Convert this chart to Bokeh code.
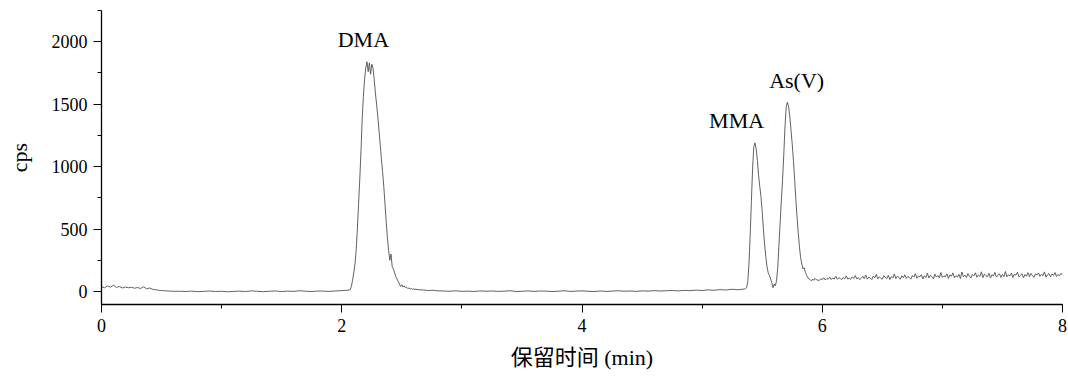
from bokeh.plotting import figure
from bokeh.models import SingleIntervalTicker, ColumnDataSource, Range1d
from bokeh.core.properties import value
from bokeh.embed import file_html
from bokeh.resources import INLINE
import numpy as np

# Chromatogram trace, stored as uniformly sampled segments: (start min, step min, cps values)
seg_start_baseline = (0.000, 0.025)
cps_start_baseline = [38, 30, 44, 35, 50, 33, 40, 28, 36, 30, 34, 26, 32, 24, 38, 22, 28, 18,
                      14, 10, 8, 6, 4, 3, 2]

seg_pre_dma = (0.65, 0.05)
cps_pre_dma = [2, 0, 3, -1, 1, 4, 0, 2, -2, 1, 3, 0, 5, 1, -1, 2, 4, 0, 3, 1, 6, 2, 0, 4, 3,
               1, 5, 7, 10]

seg_dma = (2.07, 0.01)
cps_dma = [15, 40, 90, 150, 220, 330, 500, 700, 900, 1120, 1380, 1560, 1700, 1790, 1840, 1760,
           1830, 1740, 1820, 1790, 1700, 1590, 1500, 1400, 1290, 1180, 1060, 960, 840, 700,
           560, 430, 330, 250, 300, 200, 180, 150, 120, 100, 80, 60, 40, 55, 35, 45, 30, 34,
           25, 28, 20, 24, 18, 20]

seg_dma_tail = (2.64, 0.04)
cps_dma_tail = [14, 12, 8, 10, 5]

seg_mid = (2.85, 0.05)
cps_mid = [4, 2, 6, 1, 3, 0, 5, 2, 4, 1, 3, 6, 0, 2, 5, 1, 4, 3, 0, 2, 6, 1, 3, 5, 2, 0, 4,
           1, 3, 6, 2, 4, 1, 5, 3, 7, 4, 6, 8, 5, 9, 7, 11, 8, 13, 10, 15, 12, 18, 14, 20]

seg_mma_asv = (5.36, 0.01)
cps_mma_asv = [22, 30, 80, 220, 450, 720, 980, 1160, 1190, 1140, 1050, 930, 840, 760, 640,
               500, 380, 280, 200, 150, 130, 100, 70, 30, 60, 45, 90, 200, 380, 560, 740, 900,
               1100, 1320, 1480, 1515, 1480, 1400, 1290, 1180, 1050, 900, 740, 600, 470, 360,
               270, 220, 180, 190, 150, 130, 110, 100, 95, 85, 100, 90, 105, 95]

seg_late = (5.975, 0.0125)
cps_late = [88, 102, 95, 110, 92, 104, 99, 115, 96, 108, 100, 122, 98, 110, 104, 96, 112, 101, 125, 99, 108,
            97, 118, 105, 128, 100, 112, 95, 106, 121, 103, 132, 99, 115, 108, 96, 124, 110, 137, 102, 118, 106,
            99, 127, 112, 104, 130, 96, 119, 108, 141, 103, 122, 114, 98, 126, 110, 134, 105, 120, 112, 99, 128,
            115, 143, 106, 124, 117, 135, 101, 126, 111, 147, 108, 130, 120, 102, 138, 116, 128, 109, 152, 113, 125,
            118, 141, 105, 133, 122, 149, 110, 127, 115, 138, 104, 156, 119, 131, 112, 144, 123, 108, 137, 126, 150,
            114, 132, 121, 158, 111, 140, 127, 118, 146, 109, 135, 124, 153, 116, 129, 142, 113, 137, 120, 160, 118,
            134, 125, 148, 112, 139, 130, 155, 117, 128, 143, 110, 136, 122, 151, 119, 145, 127, 114, 141, 132, 149,
            121, 138, 126, 157, 115, 133, 144, 118, 140, 129, 152, 120, 136, 127, 145, 131]

# Peak labels: name, time (min), cps at text baseline
peak_names = ["DMA", "MMA", "As(V)"]
peak_label_t = [2.18, 5.287, 5.787]
peak_label_cps = [2016, 1368, 1688]

x_ticks_interval = 2
y_ticks_interval = 500

segments = [
    (seg_start_baseline, cps_start_baseline),
    (seg_pre_dma, cps_pre_dma),
    (seg_dma, cps_dma),
    (seg_dma_tail, cps_dma_tail),
    (seg_mid, cps_mid),
    (seg_mma_asv, cps_mma_asv),
    (seg_late, cps_late),
]
times, counts = [], []
for (t0, dt), vals in segments:
    times.extend(t0 + dt * np.arange(len(vals)))
    counts.extend(vals)

SERIF = "Liberation Serif"

p = figure(width=1068, height=376, output_backend="svg", toolbar_location=None,
           x_range=Range1d(0, 8), y_range=Range1d(-104, 2250),
           min_border_left=101, min_border_right=6, min_border_top=10, min_border_bottom=72)
p.outline_line_color = None
p.xgrid.visible = False
p.ygrid.visible = False
p.background_fill_color = "white"
p.border_fill_color = "white"

p.line(times, counts, line_color="#505050", line_width=0.9)

src = ColumnDataSource(dict(x=peak_label_t, y=peak_label_cps, t=peak_names))
p.text(x="x", y="y", text="t", source=src, text_font=value(SERIF), text_font_size="22px",
       text_align="center", text_baseline="alphabetic", text_color="black")

for ax in (p.xaxis[0], p.yaxis[0]):
    ax.axis_line_color = "black"
    ax.axis_line_width = 1.3
    ax.major_tick_line_color = "black"
    ax.minor_tick_line_color = "black"
    ax.major_tick_in = 0
    ax.major_tick_out = 8
    ax.minor_tick_in = 0
    ax.minor_tick_out = 4
    ax.major_label_text_font = SERIF
    ax.major_label_text_font_size = "18px"
    ax.major_label_text_color = "black"
    ax.axis_label_text_font_style = "normal"
    ax.axis_label_text_color = "black"
    ax.axis_label_text_font_size = "22px"

p.xaxis[0].ticker = SingleIntervalTicker(interval=x_ticks_interval, num_minor_ticks=2)
p.yaxis[0].ticker = SingleIntervalTicker(interval=y_ticks_interval, num_minor_ticks=2)
p.xaxis[0].axis_label = "保留时间 (min)"
p.xaxis[0].axis_label_text_font = "Liberation Serif, Noto Sans CJK SC"
p.yaxis[0].axis_label = "cps"
p.yaxis[0].axis_label_text_font = SERIF
p.xaxis[0].major_label_standoff = 6
p.yaxis[0].major_label_standoff = 6
p.xaxis[0].axis_label_standoff = 10
p.yaxis[0].axis_label_standoff = 17

open("out.html", "w").write(file_html(p, INLINE))
